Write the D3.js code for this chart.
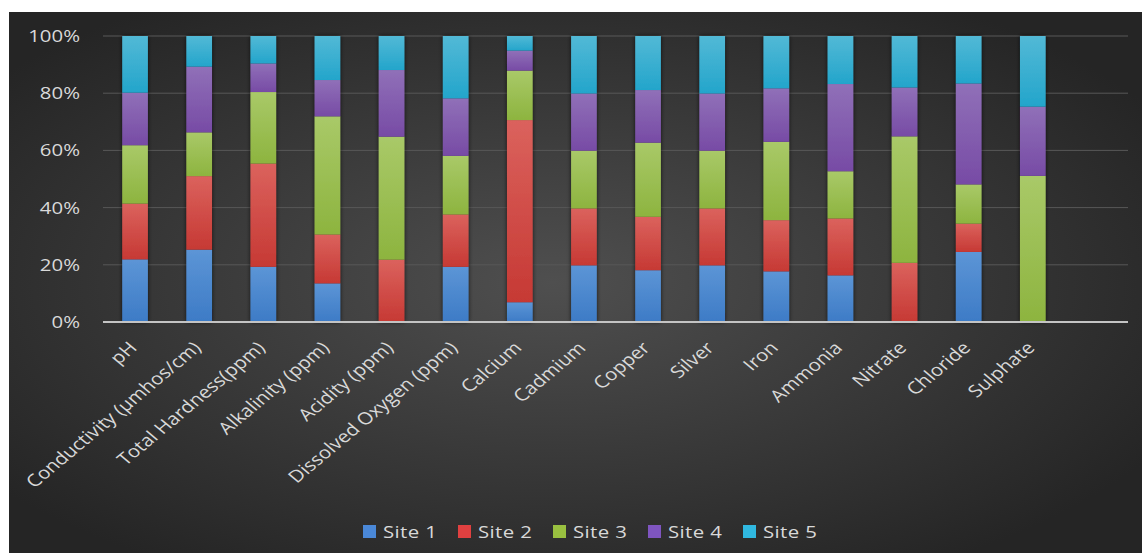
<!DOCTYPE html>
<html>
<head>
  <meta charset="utf-8">
  <script src="https://d3js.org/d3.v7.min.js"></script>
  <style>
    body { margin: 0; background: #fff; }
    text { font-family: "Open Sans", "Noto Sans", sans-serif; }
  </style>
</head>
<body>
<script>
  // categories and per-site shares (%)
  var categories = ["pH", "Conductivity (\u00b5mhos/cm)", "Total Hardness(ppm)", "Alkalinity (ppm)",
    "Acidity (ppm)", "Dissolved Oxygen (ppm)", "Calcium", "Cadmium", "Copper", "Silver",
    "Iron", "Ammonia", "Nitrate", "Chloride", "Sulphate"];
  var sites = ["Site 1", "Site 2", "Site 3", "Site 4", "Site 5"];
  var site1 = [21.9, 25.3, 19.3, 13.5, 0, 19.3, 6.9, 19.8, 18.1, 19.8, 17.7, 16.3, 0, 24.5, 0];
  var site2 = [19.5, 25.7, 36.1, 17.1, 21.8, 18.3, 63.7, 19.9, 18.7, 19.9, 17.9, 19.9, 20.7, 9.9, 0];
  var site3 = [20.4, 15.3, 25.0, 41.3, 43.0, 20.5, 17.3, 20.2, 25.9, 20.2, 27.4, 16.5, 44.2, 13.7, 51.1];
  var site4 = [18.4, 23.0, 10.0, 12.7, 23.3, 20.1, 7.0, 20.0, 18.4, 20.0, 18.7, 30.5, 17.1, 35.3, 24.2];
  var site5 = [19.8, 10.7, 9.6, 15.4, 11.9, 21.8, 5.1, 20.1, 18.9, 20.1, 18.3, 16.8, 18.0, 16.6, 24.7];
  var yTicks = [0, 0.2, 0.4, 0.6, 0.8, 1];

  var series = [site1, site2, site3, site4, site5];
  var rows = categories.map(function(c, i) {
    var r = {cat: c};
    sites.forEach(function(s, j) { r[s] = series[j][i]; });
    return r;
  });

  var W = 1142, H = 553;
  var svg = d3.select("body").append("svg").attr("width", W).attr("height", H);
  var defs = svg.append("defs");

  // dark chart background
  var bg = defs.append("radialGradient").attr("id", "bg")
    .attr("cx", "48%").attr("cy", "50%").attr("r", "62%");
  bg.append("stop").attr("offset", "0%").attr("stop-color", "#4f4f4f");
  bg.append("stop").attr("offset", "100%").attr("stop-color", "#252525");
  svg.append("rect").attr("x", 9).attr("y", 12).attr("width", W - 9).attr("height", H - 12)
    .attr("fill", "url(#bg)");

  var tops = ["#5c95d6", "#db625d", "#a9c968", "#9070b8", "#52b9d6"];
  var bots = ["#3d7bc6", "#c63934", "#8db43f", "#774ba5", "#23a5cb"];
  var legendCols = ["#4a88d8", "#e04040", "#99c040", "#7f55c0", "#30b8e0"];
  sites.forEach(function(s, i) {
    var g = defs.append("linearGradient").attr("id", "g" + i)
      .attr("x1", 0).attr("y1", 0).attr("x2", 0).attr("y2", 1);
    g.append("stop").attr("offset", "0%").attr("stop-color", tops[i]);
    g.append("stop").attr("offset", "100%").attr("stop-color", bots[i]);
  });
  var sh = defs.append("filter").attr("id", "sh").attr("x", "-40%").attr("width", "180%");
  sh.append("feDropShadow").attr("dx", 0).attr("dy", 0).attr("stdDeviation", 2)
    .attr("flood-color", "#000").attr("flood-opacity", 0.7);

  var x = d3.scaleBand().domain(categories.concat([""])).range([103, 1129])
    .paddingInner(0.6).paddingOuter(0.3);
  var y = d3.scaleLinear().domain([0, 1]).range([322, 36]);

  // grid
  svg.append("g").selectAll("line").data(yTicks.slice(1)).enter().append("line")
    .attr("x1", 103).attr("x2", 1128)
    .attr("y1", function(d) { return y(d); }).attr("y2", function(d) { return y(d); })
    .attr("stroke", "#585858").attr("stroke-width", 1);

  var stack = d3.stack().keys(sites).offset(d3.stackOffsetExpand);
  var layers = stack(rows);

  svg.append("g").attr("filter", "url(#sh)").selectAll("g").data(layers).enter().append("g")
    .attr("fill", function(d, i) { return "url(#g" + i + ")"; })
    .selectAll("rect").data(function(d) { return d; }).enter().append("rect")
    .attr("x", function(d) { return x(d.data.cat); })
    .attr("width", x.bandwidth())
    .attr("y", function(d) { return y(d[1]); })
    .attr("height", function(d) { return y(d[0]) - y(d[1]); });

  // axis line
  svg.append("line").attr("x1", 103).attr("x2", 1128).attr("y1", y(0)).attr("y2", y(0))
    .attr("stroke", "#c4c4c4").attr("stroke-width", 2);

  // the source picture is stretched sideways, so text gets the same stretch
  var stretch = " scale(1.2,1)";

  // y labels
  var fmt = d3.format(".0%");
  svg.append("g").selectAll("text").data(yTicks).enter().append("text")
    .attr("transform", function(d) { return "translate(80," + y(d) + ")" + stretch; })
    .attr("dy", "0.35em")
    .attr("text-anchor", "end").attr("fill", "#d9d9d9").attr("font-size", 17)
    .text(function(d) { return fmt(d); });

  // x labels
  svg.append("g").selectAll("text").data(categories).enter().append("text")
    .attr("transform", function(d) {
      return "translate(" + (x(d) + x.bandwidth() / 2 + 3) + ",349)" + stretch + " rotate(-45)";
    })
    .attr("text-anchor", "end").attr("fill", "#d9d9d9").attr("font-size", 17)
    .text(function(d) { return d; });

  // legend
  var lg = svg.append("g").selectAll("g").data(sites).enter().append("g")
    .attr("transform", function(d, i) { return "translate(" + (363 + i * 95) + ",532)"; });
  lg.append("rect").attr("x", 0).attr("y", -7).attr("width", 13).attr("height", 13)
    .attr("fill", function(d, i) { return legendCols[i]; });
  lg.append("text").attr("transform", "translate(20,0)" + stretch)
    .attr("dy", "0.35em").attr("fill", "#d9d9d9")
    .attr("font-size", 17).attr("letter-spacing", 0.3).text(function(d) { return d; });
</script>
</body>
</html>
